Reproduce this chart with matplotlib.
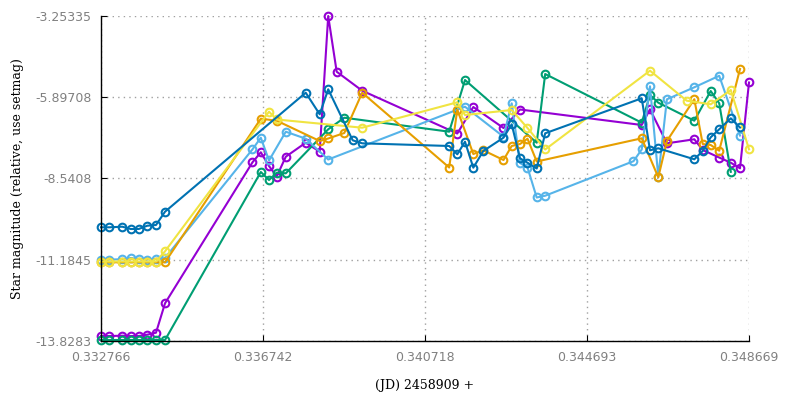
import matplotlib
matplotlib.use("Agg")
import matplotlib.pyplot as plt

# observation times (fraction of day after JD 2458909) and magnitudes per star
green_x = [0.332766, 0.332970, 0.333289, 0.333495, 0.333691, 0.333902, 0.334116, 0.334337,
           0.336688, 0.336889, 0.337078, 0.337301, 0.338342, 0.338737, 0.341311, 0.341699,
           0.343459, 0.343667, 0.346036, 0.346239, 0.346443, 0.347327, 0.347729, 0.347938, 0.348222]
green_y = [-13.796, -13.796, -13.796, -13.796, -13.796, -13.796, -13.796, -13.796,
           -8.329, -8.590, -8.352, -8.372, -6.940, -6.563, -7.018, -5.336,
           -7.376, -5.141, -6.725, -5.824, -6.074, -6.660, -5.694, -6.094, -8.323]

purple_x = [0.332766, 0.332970, 0.333289, 0.333495, 0.333691, 0.333902, 0.334116, 0.334337,
            0.336484, 0.336688, 0.336889, 0.337078, 0.337301, 0.337790, 0.338133, 0.338342,
            0.338550, 0.339176, 0.341510, 0.341903, 0.342644, 0.343049, 0.346036, 0.346239,
            0.346654, 0.347327, 0.347533, 0.347938, 0.348222, 0.348448, 0.348669]
purple_y = [-13.666, -13.666, -13.656, -13.666, -13.666, -13.623, -13.558, -12.602,
            -8.014, -7.688, -8.134, -8.476, -7.832, -7.376, -7.669, -3.25335,
            -5.066, -5.684, -7.077, -6.214, -6.898, -6.296, -6.800, -6.289,
            -7.396, -7.265, -7.614, -7.858, -8.027, -8.209, -5.417]

lightblue_x = [0.332766, 0.332970, 0.333289, 0.333495, 0.333691, 0.333902, 0.334116, 0.334337,
               0.336484, 0.336688, 0.336889, 0.337301, 0.337790, 0.338342, 0.341699, 0.342644,
               0.342845, 0.343049, 0.343233, 0.343459, 0.343667, 0.345834, 0.346036, 0.346239,
               0.346443, 0.346654, 0.347327, 0.347938, 0.348448]
lightblue_y = [-11.177, -11.177, -11.170, -11.128, -11.160, -11.177, -11.160, -11.128,
               -7.591, -7.213, -7.955, -7.018, -7.246, -7.923, -6.205, -7.181,
               -6.094, -8.037, -8.183, -9.159, -9.101, -7.978, -7.597, -5.541,
               -8.482, -5.964, -5.573, -5.199, -7.142]

orange_x = [0.332766, 0.332970, 0.333289, 0.333495, 0.333691, 0.333902, 0.334116, 0.334337,
            0.336688, 0.337078, 0.338133, 0.338342, 0.338737, 0.339176, 0.341311, 0.341510,
            0.341903, 0.342148, 0.342644, 0.342845, 0.343049, 0.343233, 0.343459, 0.346036,
            0.346443, 0.346654, 0.347327, 0.347533, 0.347729, 0.347938, 0.348448]
orange_y = [-11.268, -11.268, -11.268, -11.268, -11.268, -11.268, -11.268, -11.268,
            -6.595, -6.660, -7.321, -7.239, -7.060, -5.749, -8.183, -6.296,
            -7.744, -7.623, -7.939, -7.483, -7.418, -7.246, -7.988, -7.233,
            -8.502, -7.321, -5.961, -7.418, -7.451, -7.636, -4.978]

yellow_x = [0.332766, 0.332970, 0.333289, 0.333495, 0.333691, 0.333902, 0.334116, 0.334337,
            0.336889, 0.337078, 0.339176, 0.341510, 0.341699, 0.342845, 0.343233, 0.343667,
            0.346239, 0.347140, 0.347729, 0.348222, 0.348669]
yellow_y = [-11.242, -11.242, -11.242, -11.242, -11.242, -11.242, -11.242, -10.910,
            -6.367, -6.621, -6.888, -6.061, -6.475, -6.312, -6.898, -7.597,
            -5.033, -6.009, -6.127, -5.661, -7.591]

blue_x = [0.332766, 0.332970, 0.333289, 0.333495, 0.333691, 0.333902, 0.334116, 0.334337,
          0.337790, 0.338133, 0.338342, 0.338943, 0.339176, 0.341311, 0.341510, 0.341699,
          0.341903, 0.342148, 0.342644, 0.342845, 0.343049, 0.343233, 0.343459, 0.343667,
          0.346036, 0.346239, 0.346443, 0.347327, 0.347533, 0.347729, 0.347938, 0.348222, 0.348448]
blue_y = [-10.129, -10.129, -10.109, -10.184, -10.184, -10.077, -10.054, -9.621,
          -5.749, -6.452, -5.638, -7.298, -7.396, -7.483, -7.753, -7.343,
          -8.189, -7.646, -7.213, -6.777, -7.884, -8.027, -8.215, -7.070,
          -5.931, -7.623, -7.558, -7.916, -7.646, -7.200, -6.940, -6.582, -6.881]

x_ticks = [0.332766, 0.336742, 0.340718, 0.344693, 0.348669]
y_ticks = [-13.8283, -11.1845, -8.5408, -5.89708, -3.25335]
x_tick_labels = ["0.332766", "0.336742", "0.340718", "0.344693", "0.348669"]
y_tick_labels = ["-13.8283", "-11.1845", "-8.5408", "-5.89708", "-3.25335"]

series = [
    (purple_x, purple_y, "#9400d3"),
    (green_x, green_y, "#009e73"),
    (lightblue_x, lightblue_y, "#56b4e9"),
    (orange_x, orange_y, "#e69f00"),
    (yellow_x, yellow_y, "#f0e442"),
    (blue_x, blue_y, "#0072b2"),
]

fig = plt.figure(figsize=(7.88, 3.99), dpi=100)
ax = fig.add_axes([101 / 788, 1 - 341 / 399, 648 / 788, 325 / 399])

for xs, ys, col in series:
    ax.plot(xs, ys, color=col, lw=1.5, marker="o", ms=5.5, mfc="none", mew=1.5,
            clip_on=False)

ax.set_xlim(x_ticks[0], x_ticks[-1])
ax.set_ylim(y_ticks[0], y_ticks[-1])
ax.set_xticks(x_ticks)
ax.set_xticklabels(x_tick_labels)
ax.set_yticks(y_ticks)
ax.set_yticklabels(y_tick_labels)

ax.grid(True, color="#a0a0a0", linestyle=(0, (1, 3)), linewidth=1)
ax.spines["top"].set_visible(False)
ax.spines["right"].set_visible(False)
ax.spines["left"].set_linewidth(1)
ax.spines["bottom"].set_linewidth(1)
ax.tick_params(direction="in", length=4, color="black", labelcolor="#808080",
               labelsize=9, pad=7)
for lab in ax.get_xticklabels() + ax.get_yticklabels():
    lab.set_family("DejaVu Sans")

ax.set_ylabel("Star magnitude (relative, use setmag)", family="DejaVu Serif",
              fontsize=9, labelpad=8)
ax.set_xlabel("(JD) 2458909 +", family="DejaVu Serif", fontsize=9, labelpad=11)

fig.savefig("out.png", dpi=100)
